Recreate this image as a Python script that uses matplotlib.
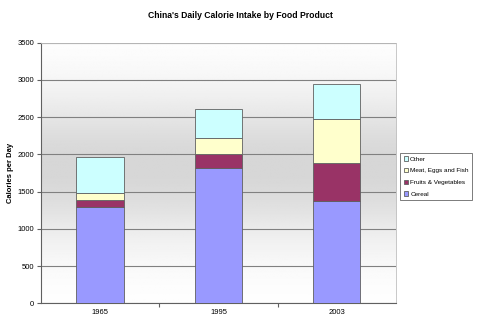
import numpy as np
import matplotlib
matplotlib.use("Agg")
import matplotlib.pyplot as plt

years = ["1965", "1995", "2003"]
cereal = [1290, 1820, 1375]
fruits_veg = [100, 180, 510]
meat_eggs_fish = [95, 215, 590]
other = [475, 395, 470]

series = [
    ("Cereal", cereal, "#9999ff"),
    ("Fruits & Vegetables", fruits_veg, "#993366"),
    ("Meat, Eggs and Fish", meat_eggs_fish, "#ffffcc"),
    ("Other", other, "#ccffff"),
]

plt.rcParams["font.family"] = ["Liberation Sans", "DejaVu Sans"]

fig = plt.figure(figsize=(4.8, 3.28), dpi=100)
ax = fig.add_axes([0.0854, 0.075, 0.7396, 0.795])

# Excel-like gradient fill behind the plot area: light at edges, grey in middle
t = np.linspace(0, 1, 256)
shade = 1.0 - 0.16 * np.exp(-((t - 0.52) / 0.28) ** 2)
grad = np.repeat(shade[:, None], 2, axis=1)
ax.imshow(grad, cmap="gray", vmin=0, vmax=1, aspect="auto",
          extent=[0, 3, 0, 3500], origin="lower", zorder=0)

x = np.arange(len(years)) + 0.5
bottom = np.zeros(len(years))
handles = []
for name, vals, color in series:
    b = ax.bar(x, vals, width=0.4, bottom=bottom, color=color,
               edgecolor="#606060", linewidth=0.6, label=name, zorder=3)
    handles.append(b)
    bottom += np.array(vals)

ax.set_xlim(0, 3)
ax.set_ylim(0, 3500)
ax.set_yticks(np.arange(0, 3501, 500))
ax.yaxis.grid(True, color="#808080", linewidth=0.8, zorder=1)
ax.set_axisbelow(True)

ax.set_xticks([1, 2], minor=False)
ax.set_xticklabels([])
ax.set_xticks(x, minor=True)
ax.set_xticklabels(years, minor=True)
ax.tick_params(axis="x", which="minor", length=0, labelsize=5.5, pad=4)
ax.tick_params(axis="x", which="major", length=3, color="#606060")
ax.tick_params(axis="y", labelsize=5.5, length=3, color="#606060", pad=2)

for side in ["top", "right"]:
    ax.spines[side].set_color("#c0c0c0")
    ax.spines[side].set_linewidth(0.6)
for side in ["left", "bottom"]:
    ax.spines[side].set_color("#606060")
    ax.spines[side].set_linewidth(0.8)

ax.set_ylabel("Calories per Day", fontsize=5.5, fontweight="bold")
ax.yaxis.set_label_coords(-0.076, 0.5)
fig.suptitle("China's Daily Calorie Intake by Food Product", fontsize=6.2,
             fontweight="bold", x=0.5, y=0.965)

leg = ax.legend(handles[::-1], [s[0] for s in series][::-1],
                loc="upper left", bbox_to_anchor=(1.012, 0.577),
                fontsize=4.6, frameon=True, fancybox=False,
                handlelength=0.7, handleheight=0.7, handletextpad=0.3,
                borderpad=0.55, labelspacing=0.95, borderaxespad=0)
leg.get_frame().set_edgecolor("#404040")
leg.get_frame().set_linewidth(0.6)

fig.savefig("out.png", dpi=100)
